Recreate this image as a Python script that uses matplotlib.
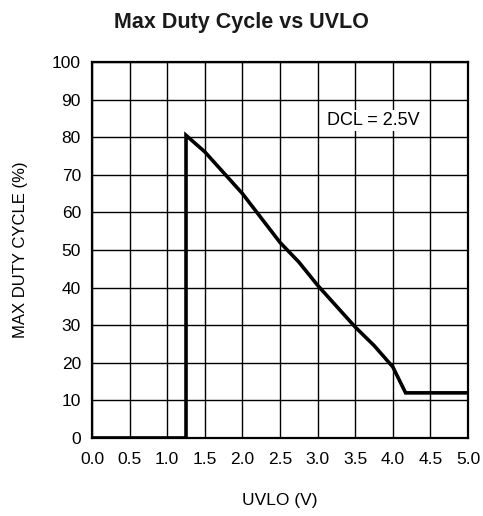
import matplotlib
matplotlib.use("Agg")
import matplotlib.pyplot as plt

plt.rcParams['font.family'] = ['Liberation Sans', 'DejaVu Sans']

# curve (UVLO in V, max duty cycle in %)
uvlo = [0.0, 1.25, 1.25, 1.5, 2.0, 2.5, 2.75, 3.0, 3.5, 3.75, 4.0, 4.17, 5.0]
duty = [0.0, 0.0, 80.5, 76.1, 65.0, 52.0, 46.8, 40.6, 29.5, 24.6, 18.9, 12.0, 12.0]

xticks = [0.0, 0.5, 1.0, 1.5, 2.0, 2.5, 3.0, 3.5, 4.0, 4.5, 5.0]
yticks = [0, 10, 20, 30, 40, 50, 60, 70, 80, 90, 100]

fig = plt.figure(figsize=(4.83, 5.16), dpi=100)
ax = fig.add_axes([0.1905, 0.1512, 0.7785, 0.7287])

ax.plot(uvlo, duty, color='black', linewidth=2.6, solid_joinstyle='miter', zorder=3)

ax.set_xlim(0, 5)
ax.set_ylim(0, 100)
ax.set_xticks(xticks)
ax.set_xticklabels([f'{v:.1f}' for v in xticks])
ax.set_yticks(yticks)
ax.tick_params(length=0, labelsize=12.5, colors='black')
ax.tick_params(axis='x', pad=10)
ax.tick_params(axis='y', pad=8)

ax.grid(True, color='black', linewidth=1.0)
ax.set_axisbelow(True)
for s in ax.spines.values():
    s.set_linewidth(1.6)

ax.text(3.74, 84.5, 'DCL = 2.5V', fontsize=13, ha='center', va='center',
        bbox=dict(facecolor='white', edgecolor='none', pad=1.5), zorder=4)

ax.set_xlabel('UVLO (V)', fontsize=12.5, labelpad=19)
ax.set_ylabel('MAX DUTY CYCLE (%)', fontsize=12, labelpad=17)

fig.text(0.5, 0.957, 'Max Duty Cycle vs UVLO', fontsize=15.5, fontweight='bold',
         ha='center', va='center', color='#1a1a1a')

fig.savefig('out.png', dpi=100)
